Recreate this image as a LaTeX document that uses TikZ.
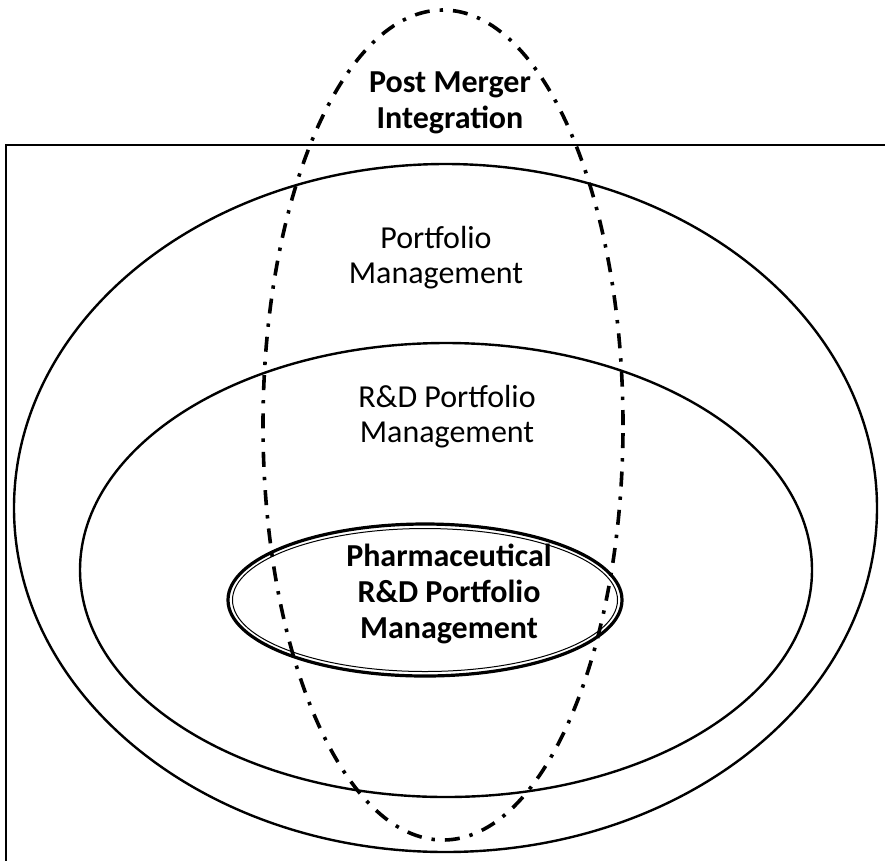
\documentclass[tikz,border=0pt]{standalone}
\usepackage{fontspec}
\setmainfont{Carlito}
\begin{document}
\begin{tikzpicture}[x=1pt,y=-1pt,
  ring/.style={draw=black, line width=2.4pt},
  scope line/.style={draw=black, line width=3.6pt, line cap=butt,
    dash pattern=on 15pt off 10pt on 3.4pt off 10pt},
  label/.style={align=center, inner sep=0pt,
    font=\fontsize{32}{35}\selectfont},
  boldlabel/.style={label, font=\fontsize{32}{36}\selectfont\bfseries}]
  \useasboundingbox (0,0) rectangle (885,860);
  \clip (0,0) rectangle (885,860);

  % frame (runs past the right and bottom edges)
  \draw[line width=2pt] (6,145) rectangle (905,880);

  % nested scopes
  \coordinate (outerc) at (445.5,508);
  \coordinate (midc)   at (446,570);
  \coordinate (innerc) at (425,600);
  \coordinate (pmic)   at (443,425);

  \draw[ring, fill=white] (outerc) ellipse [x radius=431.5pt, y radius=344pt];
  \draw[ring] (midc) ellipse [x radius=366pt, y radius=227pt];
  \draw[draw=black, line width=3.2pt] (innerc) ellipse [x radius=197pt, y radius=76pt];
  \draw[draw=black, line width=1pt] (innerc) ellipse [x radius=192.5pt, y radius=71.5pt];

  % post-merger integration scope
  \draw[scope line] (pmic) ellipse [x radius=180pt, y radius=415pt];

  % labels (anchored at the baseline of their last line)
  \node[boldlabel, anchor=base] (pmi) at (450,128) {Post Merger\\Integration};
  \node[label, anchor=base] (pm) at (436,283) {Portfolio\\Management};
  \node[label, anchor=base] (rdpm) at (447,442) {R\&D Portfolio\\Management};
  \node[boldlabel, anchor=base] (prdpm) at (449,638) {Pharmaceutical\\R\&D Portfolio\\Management};
\end{tikzpicture}
\end{document}
